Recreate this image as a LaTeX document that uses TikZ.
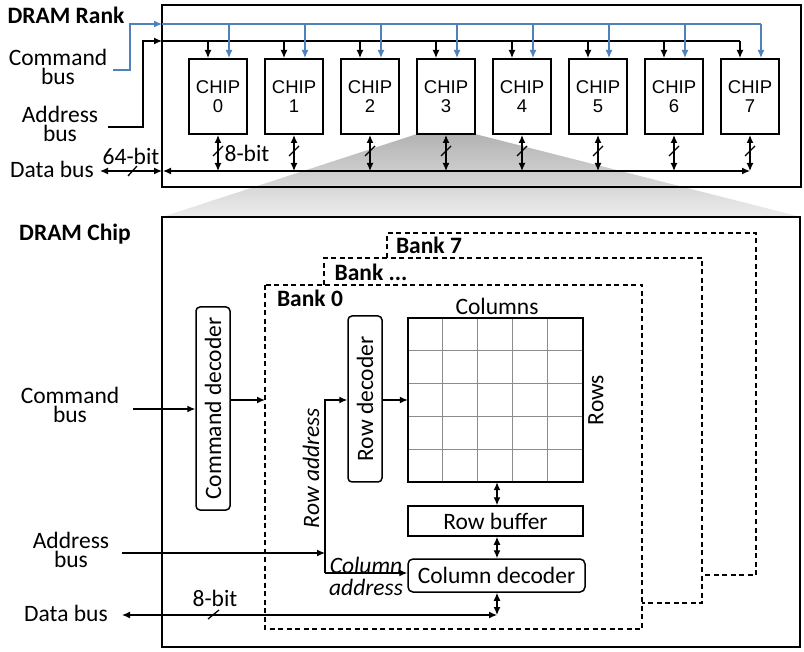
\documentclass[tikz,border=0pt]{standalone}
\usepackage{fontspec}
\setmainfont{Carlito}
\newfontfamily\arialfont{Liberation Sans}
\usetikzlibrary{arrows.meta,calc}
\definecolor{busblue}{RGB}{79,129,189}
\begin{document}
\begin{tikzpicture}[x=1pt,y=-1pt,
  txt/.style={font=\fontsize{23.5}{19}\selectfont, align=center, inner sep=0pt},
  btxt/.style={font=\fontsize{23.5}{19}\selectfont\bfseries, align=center, inner sep=0pt},
  itxt/.style={font=\fontsize{23.5}{22}\selectfont\itshape, align=center, inner sep=0pt},
  chipbox/.style={draw, line width=2pt, fill=white, minimum width=58pt, minimum height=75pt, inner sep=0pt, align=center, font=\arialfont\fontsize{18.5}{19}\selectfont},
  blk/.style={draw, line width=1.5pt, fill=white, inner sep=0pt, font=\fontsize{23.5}{19}\selectfont},
  conn/.style={line width=1.3pt},
  arr/.style={conn, -{Latex[length=8pt,width=7pt]}},
  darr/.style={conn, {Latex[length=8pt,width=7pt]}-{Latex[length=8pt,width=7pt]}},
  bankline/.style={line width=1.3pt, dash pattern=on 5pt off 3.5pt},
]
\useasboundingbox (0,0) rectangle (804,652);
% zoom wedge
\shade[top color=black!30, bottom color=black!7] (417,134) -- (475,134) -- (801,217) -- (162,217) -- cycle;

% ---------- DRAM rank ----------
\draw[line width=2pt] (162,5) rectangle (801,187);
\node[btxt] (ranktitle) at (66,15) {DRAM Rank};
\foreach \i in {0,...,7}{
  \node[chipbox] (chip\i) at ({218+76*\i},96.5) {CHIP\\\i};
}
\node[txt] (cmdbus) at (58,67) {Command\\bus};
\node[txt] (addrbus) at (60,124) {Address\\bus};
\node[txt] (databus) at (52,169) {Data bus};
\coordinate (cmdin) at (113,70);
\coordinate (cmdrank) at (162,24);
\coordinate (addrin) at (108,127);
\coordinate (addrrank) at (162,41);
\coordinate (datarank) at (162,171);
\coordinate (dataout) at (100,171);

\draw[arr, busblue] (cmdin) -- ++(17,0) |- (cmdrank);
\draw[conn, busblue] (cmdrank) -- ([xshift=11pt]chip7.north |- cmdrank);
\draw[arr] (addrin) -- ++(35,0) |- (addrrank);
\draw[conn] (addrrank) -- ([xshift=-10pt]chip7.north |- addrrank);
\foreach \i in {0,...,7}{
  \draw[arr, busblue] ([xshift=11pt]chip\i.north |- cmdrank) -- ([xshift=11pt]chip\i.north);
  \draw[arr] ([xshift=-10pt]chip\i.north |- addrrank) -- ([xshift=-10pt]chip\i.north);
  \draw[darr] (chip\i.south) -- (chip\i.south |- datarank);
  \draw[conn] ($(chip\i.south)+(-5,21)$) -- ++(10,-10);
}
\draw[darr] (dataout) -- (datarank);
\draw[conn] (128,176) -- (137,166);
\node[txt] (w64) at (131,156) {64-bit};
\node[txt] (w8) at (247,153) {8-bit};
\draw[darr] ([xshift=1pt]datarank) -- (chip7.south |- datarank);

% ---------- DRAM chip ----------
\draw[line width=2pt, fill=white] (162,217) rectangle (800,647);
\node[btxt] (chiptitle) at (75,234) {DRAM Chip};

\draw[bankline] (387,258) -- (387,233) -- (756,233) -- (756,575) -- (702,575);
\draw[bankline] (324,285) -- (324,258) -- (702,258) -- (702,603) -- (642,603);
\draw[bankline] (265,285) rectangle (642,629);
\node[btxt] (bank7) at (429,245) {Bank 7};
\node[btxt] (bankn) at (371,272) {Bank ...};
\node[btxt] (bank0) at (310,298) {Bank 0};

\node[blk, rounded corners=4pt, minimum width=34pt, minimum height=203pt] (cmddec) at (213,408.5) {\rotatebox{90}{Command decoder}};
\node[blk, rounded corners=4pt, minimum width=34pt, minimum height=166pt] (rowdec) at (365,399) {\rotatebox{90}{Row decoder}};
\node[minimum width=175pt, minimum height=164pt, inner sep=0pt] (grid) at (495.5,400) {};
\foreach \k in {1,...,4}{
  \draw[black!45, line width=0.9pt] ($(grid.north west)+(35*\k,0)$) -- ($(grid.south west)+(35*\k,0)$);
  \draw[black!45, line width=0.9pt] ($(grid.north west)+(0,32.8*\k)$) -- ($(grid.north east)+(0,32.8*\k)$);
}
\draw[line width=1.5pt] (grid.north west) rectangle (grid.south east);
\node[txt] (colslbl) at (497,306) {Columns};
\node[txt, rotate=90] (rowslbl) at (596,400) {Rows};
\node[blk, minimum width=175pt, minimum height=30pt] (rowbuf) at (495.5,521) {Row buffer};
\node[blk, rounded corners=5pt, minimum width=177pt, minimum height=33pt] (coldec) at (496.5,575.5) {Column decoder};

\coordinate (vx) at (497,0);
\coordinate (datal) at (122,615);
\draw[darr] (vx |- grid.south) -- (vx |- rowbuf.north);
\draw[darr] (vx |- rowbuf.south) -- (vx |- coldec.north);
\draw[darr] (vx |- coldec.south) -- (vx |- datal);
\draw[darr] (datal) -- (vx |- datal);
\draw[conn] (208,619) -- (219,610);
\node[txt] (w8b) at (215,598) {8-bit};

\node[txt] (cmdbus2) at (70,405) {Command\\bus};
\node[txt] (addrbus2) at (71,550) {Address\\bus};
\node[txt] (databus2) at (66,613) {Data bus};

\coordinate (cmdin2) at (133,409);
\draw[arr] (cmdin2) -- (cmdin2 -| cmddec.west);
\coordinate (bank0w) at (265,400);
\draw[arr] (cmddec.east |- bank0w) -- (bank0w);

\coordinate (addrin2) at (122,553);
\coordinate (split) at (325,553);
\coordinate (rowtop) at (325,400);
\coordinate (colbot) at (325,573);
\draw[arr] (addrin2) -- (split);
\draw[arr] (colbot) |- (rowdec.west |- rowtop);
\draw[arr] (colbot) -- (coldec.west |- colbot);
\draw[arr] (rowdec.east |- rowtop) -- (grid.west |- rowtop);
\node[itxt, rotate=90] (rowaddr) at (311,468) {Row address};
\node[itxt] (coladdr) at (366,576) {Column\\address};
\end{tikzpicture}
\end{document}
